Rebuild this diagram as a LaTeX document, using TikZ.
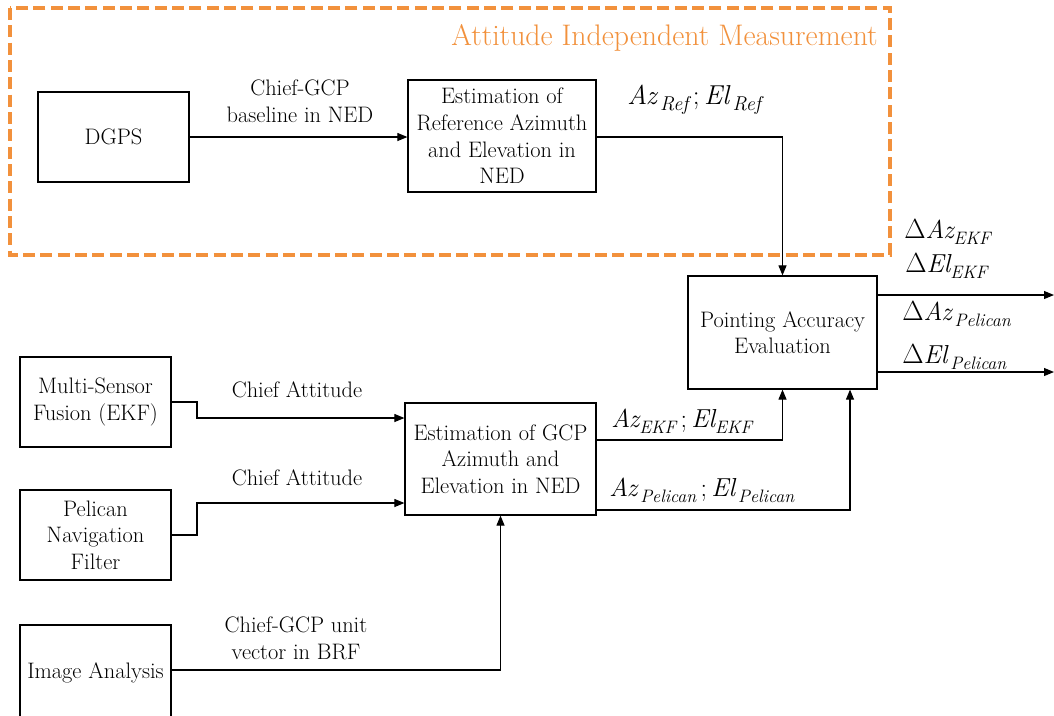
\documentclass[tikz,border=0pt]{standalone}
\usepackage{fontspec}
\usetikzlibrary{arrows.meta}
\definecolor{frameorange}{RGB}{242,145,60}
% italic quantity with a lowered subscript
\newcommand\qty[2]{{\itshape #1\raisebox{-0.55ex}{\fontsize{13.5}{13.5}\selectfont #2}}}
\begin{document}
\begin{tikzpicture}[x=0.75pt,y=-0.75pt,
  every node/.style={font=\fontsize{16.8}{20}\selectfont},
  block/.style={draw, line width=0.9pt, align=center, inner sep=0pt},
  wire/.style={line width=0.8pt},
  arr/.style={wire, -{Triangle[length=7.5pt,width=6pt]}},
  lbl/.style={align=center, inner sep=0pt},
  qlbl/.style={anchor=west, inner sep=0pt, font=\fontsize{19.5}{24}\selectfont}]
\clip (0,0) rectangle (1054,715);
\fill[white] (0,0) rectangle (1054,715);

% attitude independent part
\draw[frameorange, line width=2.3pt, dash pattern=on 9pt off 4pt] (10,8) rectangle (890,255);
\node[anchor=east, text=frameorange, inner sep=0pt, font=\fontsize{22.3}{27}\selectfont] (title) at (878,38) {Attitude Independent Measurement};

% blocks
\node[block, minimum width={151*0.75pt}, minimum height={90*0.75pt}] (dgps) at (113.5,137) {DGPS};
\node[block, minimum width={188*0.75pt}, minimum height={112*0.75pt}] (refest) at (502,136) {Estimation of\\Reference Azimuth\\and Elevation in\\NED};
\node[block, minimum width={189*0.75pt}, minimum height={113*0.75pt}] (pae) at (782.5,332.5) {Pointing Accuracy\\Evaluation};
\node[block, minimum width={151*0.75pt}, minimum height={90*0.75pt}] (msf) at (95.5,402) {Multi-Sensor\\Fusion (EKF)};
\node[block, minimum width={151*0.75pt}, minimum height={90*0.75pt}] (pnf) at (95.5,535) {Pelican\\Navigation\\Filter};
\node[block, minimum width={151*0.75pt}, minimum height={95*0.75pt}] (img) at (95.5,672.5) {Image Analysis};
\node[block, minimum width={191*0.75pt}, minimum height={112*0.75pt}] (gcp) at (500.5,459) {Estimation of GCP\\Azimuth and\\Elevation in NED};

% helper coordinates for routing
\coordinate (yekf) at (0,440);
\coordinate (ypel) at (0,510);
\coordinate (xpel) at (850,0);
\coordinate (yo1) at (0,295);
\coordinate (yo2) at (0,372);
\coordinate (xo) at (1054,0);
\coordinate (ymsf) at (0,418);
\coordinate (ypnf) at (0,503);
\coordinate (xbend) at (197,0);
\coordinate (yimg) at (0,670);

% connectors
\draw[arr] (dgps.east |- 0,137) -- (refest.west |- 0,137);
\draw[arr] (refest.east |- 0,137) -| (pae.north);
\draw[arr] (gcp.east |- yekf) -| (pae.south);
\draw[arr] (gcp.east |- ypel) -| (pae.south -| xpel);
\draw[arr] (pae.east |- yo1) -- (xo |- yo1);
\draw[arr] (pae.east |- yo2) -- (xo |- yo2);
\draw[arr] (msf.east) -- (xbend |- msf.east) -- (xbend |- ymsf) -- (gcp.west |- ymsf);
\draw[arr] (pnf.east) -- (xbend |- pnf.east) -- (xbend |- ypnf) -- (gcp.west |- ypnf);
\draw[arr] (img.east |- yimg) -| (gcp.south);

% connector labels
\node[lbl] (l1) at (300,101) {Chief-GCP\\baseline in NED};
\node[lbl] (l2) at (297,390) {Chief Attitude};
\node[lbl] (l3) at (297,478) {Chief Attitude};
\node[lbl] (l4) at (296,638) {Chief-GCP unit\\vector in BRF};

\node[qlbl, font=\fontsize{20.5}{24}\selectfont] (qref) at (627,100) {\qty{Az}{\fontsize{15}{15}\selectfont\,Ref}\,;\,\qty{El}{\fontsize{15}{15}\selectfont\,Ref}};
\node[qlbl] (qekf) at (611,421) {\qty{Az}{EKF}\,;\,\qty{El}{EKF}};
\node[qlbl] (qpel) at (609,490) {\qty{Az}{\,Pelican}\,;\,\qty{El}{\,Pelican}};

\node[qlbl] (d1) at (904,232) {$\Delta$\qty{Az}{EKF}};
\node[qlbl] (d2) at (905,266) {$\Delta$\qty{El}{EKF}};
\node[qlbl] (d3) at (902,314) {$\Delta$\qty{Az}{\,Pelican}};
\node[qlbl] (d4) at (902,357) {$\Delta$\qty{El}{\,Pelican}};
\end{tikzpicture}
\end{document}
